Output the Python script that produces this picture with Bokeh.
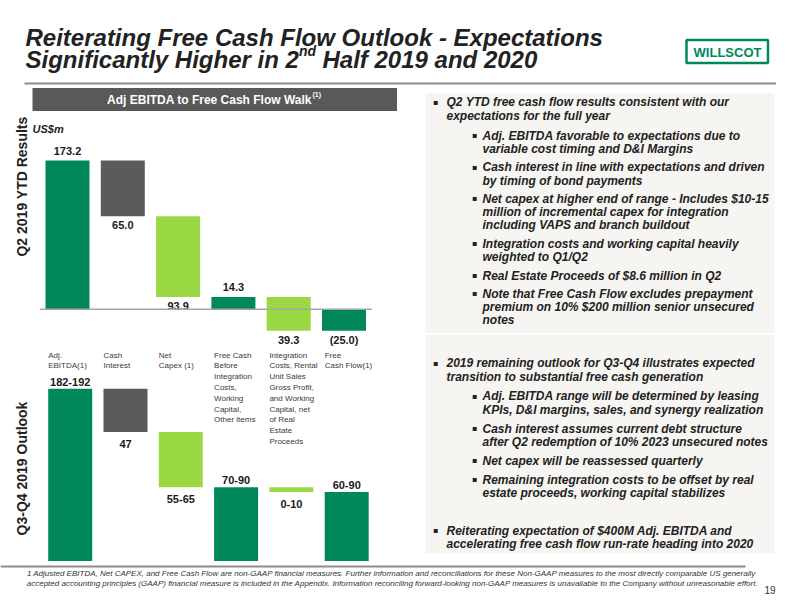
import numpy as np
from bokeh.plotting import figure
from bokeh.models import Range1d
from bokeh.core.properties import value
from bokeh.embed import file_html
from bokeh.resources import INLINE

# ---------------- data ----------------
categories = [
    "Adj.\nEBITDA(1)",
    "Cash\nInterest",
    "Net\nCapex (1)",
    "Free Cash\nBefore\nIntegration\nCosts,\nWorking\nCapital,\nOther items",
    "Integration\nCosts, Rental\n Unit Sales\n Gross Profit,\nand Working\nCapital, net\nof Real\nEstate\nProceeds",
    "Free\nCash Flow(1)",
]
ytd_values = [173.2, -65.0, -93.9, 14.3, -39.3, -25.0]
ytd_is_total = [True, False, False, True, False, True]
ytd_labels = ["173.2", "65.0", "93.9", "14.3", "39.3", "(25.0)"]

outlook_values = [187, -47, -60, 80, -5, 75]  # mid-points of the ranges
outlook_is_total = [True, False, False, True, False, True]
outlook_labels = ["182-192", "47", "55-65", "70-90", "0-10", "60-90"]

# ---------------- styles ----------------
GREEN = "#00875A"
LIGHT = "#9BD944"
GRAY = "#5B5B5B"
FONT = value("Liberation Sans")
bar_colors = [GREEN, GRAY, LIGHT, GREEN, LIGHT, GREEN]

W, H = 776, 596
p = figure(width=W, height=H, output_backend="svg", toolbar_location=None,
           x_range=Range1d(0, W), y_range=Range1d(H, 0),
           x_axis_location=None, y_axis_location=None, min_border=0)
p.grid.visible = False
p.outline_line_color = None
p.background_fill_color = "white"


def add_ranges(name, x_center0, x_step, zero_px, px_per_unit):
    p.extra_x_ranges[name] = Range1d((0 - x_center0) / x_step, (W - x_center0) / x_step)
    p.extra_y_ranges[name] = Range1d((zero_px - H) / px_per_unit, (zero_px - 0) / px_per_unit)


add_ranges("ytd", 67.0, 55.3, 308.7, 0.8585)
add_ranges("out", 69.7, 55.3, 560.5, 0.921)


def waterfall(vals, totals):
    bottoms, tops, run = [], [], 0.0
    for v, t in zip(vals, totals):
        if t:
            b, tp = min(0, v), max(0, v)
            run = v
        else:
            b, tp = min(run, run + v), max(run, run + v)
            run = run + v
        bottoms.append(b)
        tops.append(tp)
    return bottoms, tops


BAR_W = 44 / 55.3


def draw_walk(name, vals, totals, labels, above_off, below_off):
    bottoms, tops = waterfall(vals, totals)
    idx = list(range(len(vals)))
    p.vbar(x=idx, bottom=bottoms, top=tops, width=BAR_W, fill_color=bar_colors,
           line_color=None, x_range_name=name, y_range_name=name)
    above = [t and v > 0 for v, t in zip(vals, totals)]
    ly = [tp if a else b for a, tp, b in zip(above, tops, bottoms)]
    offs = [above_off if a else below_off for a in above]
    p.text(x=idx, y=ly, text=labels, y_offset=offs, text_align="center",
           text_baseline="middle", text_font=FONT, text_font_style="bold",
           text_font_size="11px", text_color="#1A1A1A",
           x_range_name=name, y_range_name=name)


draw_walk("ytd", ytd_values, ytd_is_total, ytd_labels, -10, 9)
draw_walk("out", outlook_values, outlook_is_total, outlook_labels, -7, 12)

# baseline of upper chart
p.line(x=[-0.5, len(ytd_values) - 0.5], y=[0, 0], line_color="#A6A6A6", line_width=1.5,
       x_range_name="ytd", y_range_name="ytd")

# category labels (between the two charts)
p.text(x=[i - BAR_W / 2 for i in range(len(categories))], y=[0] * len(categories),
       text=categories, x_range_name="out", y_range_name="ytd", y_offset=41.5,
       text_align="left", text_baseline="top", text_font=FONT, text_font_size="8px",
       text_line_height=1.2, text_color="#3A3A3A")

# ---------------- slide decoration ----------------
# title
p.text(x=[25, 25, 298.5, 322], y=[37, 59, 50, 59],
       text=["Reiterating Free Cash Flow Outlook - Expectations",
             "Significantly Higher in 2", "nd", "Half 2019 and 2020"],
       text_font=FONT, text_font_style="bold italic",
       text_font_size=["24px", "24px", "14px", "24px"],
       text_color="#222222", text_baseline="alphabetic", text_align="left")

# logo
p.quad(left=[686], right=[767.5], top=[39.5], bottom=[62.5], fill_color="white",
       line_color=GREEN, line_width=2.5)
p.text(x=[727], y=[51.5], text=["WILLSCOT"], text_font=FONT, text_font_style="bold",
       text_font_size="13px", text_color=GREEN, text_align="center", text_baseline="middle")

# separators
p.line(x=[24, 776], y=[83, 83], line_color="#8C8C8C", line_width=2)
p.line(x=[0, 745], y=[566, 566], line_color="#8C8C8C", line_width=2)

# header bar
p.quad(left=[32], right=[396.5], top=[87.5], bottom=[110.5], fill_color="#595959", line_color=None)
p.text(x=[209], y=[99], text=["Adj EBITDA to Free Cash Flow Walk"], text_font=FONT,
       text_font_style="bold", text_font_size="12px", text_color="white",
       text_align="center", text_baseline="middle")
p.text(x=[312], y=[94], text=["(1)"], text_font=FONT, text_font_style="bold",
       text_font_size="7px", text_color="white", text_align="left", text_baseline="middle")

# US$m
p.text(x=[32], y=[128.5], text=["US$m"], text_font=FONT, text_font_style="bold italic",
       text_font_size="11px", text_color="#222222", text_baseline="middle")

# rotated section labels
p.text(x=[21, 21], y=[186, 468], text=["Q2 2019 YTD Results", "Q3-Q4 2019 Outlook"],
       angle=np.pi / 2, text_font=FONT, text_font_style="bold", text_font_size="14px",
       text_color="#222222", text_align="center", text_baseline="middle")

# right panels
p.quad(left=[425, 425], right=[774, 774], top=[92.5, 334], bottom=[332.3, 552.7],
       fill_color="#F6F5F1", line_color=None)

panel_lines = [
    (0, "Q2 YTD free cash flow results consistent with our", 101.7, True),
    (0, "expectations for the full year", 115.7, False),
    (1, "Adj. EBITDA favorable to expectations due to", 135, True),
    (1, "variable cost timing and D&I Margins", 148.3, False),
    (1, "Cash interest in line with expectations and driven", 166.7, True),
    (1, "by timing of bond payments", 180, False),
    (1, "Net capex at higher end of range - Includes $10-15", 198.3, True),
    (1, "million of incremental capex for integration", 211.7, False),
    (1, "including VAPS and branch buildout", 224.3, False),
    (1, "Integration costs and working capital heavily", 243.3, True),
    (1, "weighted to Q1/Q2", 256, False),
    (1, "Real Estate Proceeds of $8.6 million in Q2", 275, True),
    (1, "Note that Free Cash Flow excludes prepayment", 293.3, True),
    (1, "premium on 10% $200 million senior unsecured", 306.7, False),
    (1, "notes", 319.3, False),
    (0, "2019 remaining outlook for Q3-Q4 illustrates expected", 362.7, True),
    (0, "transition to substantial free cash generation", 376.7, False),
    (1, "Adj. EBITDA range will be determined by leasing", 395.7, True),
    (1, "KPIs, D&I margins, sales, and synergy realization", 409.3, False),
    (1, "Cash interest assumes current debt structure", 428.3, True),
    (1, "after Q2 redemption of 10% 2023 unsecured notes", 441.7, False),
    (1, "Net capex will be reassessed quarterly", 460, True),
    (1, "Remaining integration costs to be offset by real", 479, True),
    (1, "estate proceeds, working capital stabilizes", 492.7, False),
    (0, "Reiterating expectation of $400M Adj. EBITDA and", 530, True),
    (0, "accelerating free cash flow run-rate heading into 2020", 543.3, False),
]
TEXT_X = {0: 446, 1: 482}
BUL_X = {0: 435, 1: 474}
p.text(x=[TEXT_X[l] for l, _, _, _ in panel_lines], y=[y for _, _, y, _ in panel_lines],
       text=[t for _, t, _, _ in panel_lines], text_font=FONT, text_font_style="bold italic",
       text_font_size="12px", text_color="#222222", text_baseline="middle", text_align="left")
bl = [(l, y) for l, _, y, b in panel_lines if b]
p.text(x=[BUL_X[l] for l, _ in bl], y=[y for _, y in bl], text=["▪"] * len(bl),
       text_font=value("DejaVu Sans"), text_font_size="8px", text_color="#222222",
       text_baseline="middle", text_align="center")

# footnote
p.text(x=[391, 392], y=[573.3, 582.7],
       text=["1 Adjusted EBITDA, Net CAPEX, and Free Cash Flow are non-GAAP financial measures. Further information and reconciliations for these Non-GAAP measures to the most directly comparable US generally",
             "accepted accounting principles (GAAP) financial measure is included in the Appendix. Information reconciling forward-looking non-GAAP measures is unavailable to the Company without unreasonable effort."],
       text_font=FONT, text_font_style="italic", text_font_size="8px",
       text_color="#333333", text_align="center", text_baseline="middle")
p.text(x=[775], y=[589], text=["19"], text_font=FONT, text_font_size="10px",
       text_color="#333333", text_align="right", text_baseline="middle")

open("out.html", "w").write(file_html(p, INLINE))
